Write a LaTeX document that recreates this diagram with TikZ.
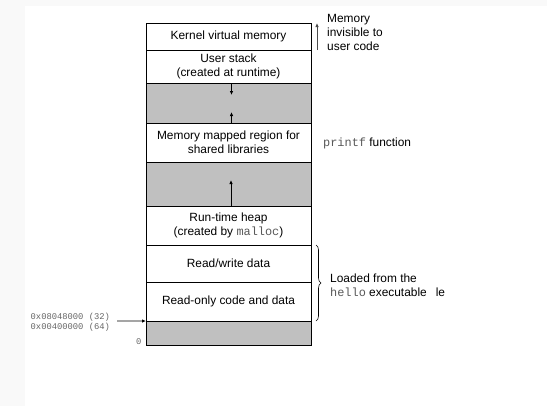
\documentclass[tikz,border=0pt]{standalone}
\usepackage{fontspec}
\setmainfont{Liberation Sans}
\setmonofont{Liberation Mono}
\usepackage{tikz}
\usetikzlibrary{positioning,arrows.meta,decorations.pathreplacing}
\definecolor{holegray}{RGB}{192,192,192}
\definecolor{pagegray}{RGB}{249,249,249}
\newcommand{\code}[1]{{\ttfamily\color{black!65}#1}}
\tikzset{
  region/.style={draw, fill=white, line width=0.9bp, minimum width=165bp, inner sep=0pt, outer sep=0pt,
    align=center, font=\fontsize{11.9bp}{14bp}\selectfont},
  hole/.style={region, fill=holegray},
  note/.style={inner sep=0pt, align=left, font=\fontsize{11.9bp}{14bp}\selectfont},
  addr/.style={inner sep=0pt, align=left, text=black!60, font=\ttfamily\fontsize{8.8bp}{10bp}\selectfont},
  growarrow/.style={-{Latex[length=4bp,width=3.5bp]}, line width=0.8bp},
}

\begin{document}
\begin{tikzpicture}[x=1bp,y=-1bp]
  \fill[pagegray] (0,0) rectangle (547,406); %Rahmen
  \fill[white] (25,6) rectangle (547,406);
  \useasboundingbox (0,0) rectangle (547,406);
  % Bereiche von oben nach unten
  \node[region, minimum height=27bp, anchor=north west] (kernel) at (146,23) {Kernel virtual memory};
  \node[region, minimum height=33bp, below=0pt of kernel] (stack) {User stack\\(created at runtime)};
  \node[hole, minimum height=40bp, below=0pt of stack] (gapA) {};
  \node[region, minimum height=39bp, below=0pt of gapA] (mmap) {Memory mapped region for\\shared libraries};
  \node[hole, minimum height=44bp, below=0pt of mmap] (gapB) {};
  \node[region, minimum height=39bp, below=0pt of gapB] (heap) {Run-time heap\\(created by \code{malloc})};
  \node[region, minimum height=37bp, below=0pt of heap] (rwdata) {Read/write data};
  \node[region, minimum height=39bp, below=0pt of rwdata] (rodata) {Read-only code and data};
  \node[hole, minimum height=24bp, below=0pt of rodata] (unused) {};
  % Wachstumspfeile
  \draw[growarrow] ([xshift=3bp]gapA.north) -- ++(0,12);
  \draw[growarrow] ([xshift=3bp]gapA.south) -- ++(0,-11);
  \draw[growarrow] ([xshift=2.5bp]gapB.south) -- ++(0,-26);
  % rechts
  \draw[growarrow, draw=black!70] ([xshift=6bp]kernel.south east) -- ([xshift=6bp]kernel.north east);
  \node[note, anchor=west] (invisible) at (327,32) {Memory\\invisible to\\user code};
  \node[note, anchor=west] (printf) at (323,143) {\code{printf} function};
  \draw[decorate, decoration={brace, amplitude=5bp}, line width=0.6bp]
    ([xshift=5bp]rwdata.north east) -- ([xshift=5bp]rodata.south east);
  \node[note, anchor=west] (loaded) at (330,285.5) {Loaded from the\\\code{hello} executable\hspace{9bp}le};
  % links
  \node[addr, anchor=west] (start) at (30.5,322) {0x08048000 (32)\\0x00400000 (64)};
  \coordinate (entry) at (117,321);
  \draw[growarrow] (entry) -- (rodata.south west);
  \node[addr, anchor=east] (zero) at (141.5,342) {0};
\end{tikzpicture}
\end{document}
